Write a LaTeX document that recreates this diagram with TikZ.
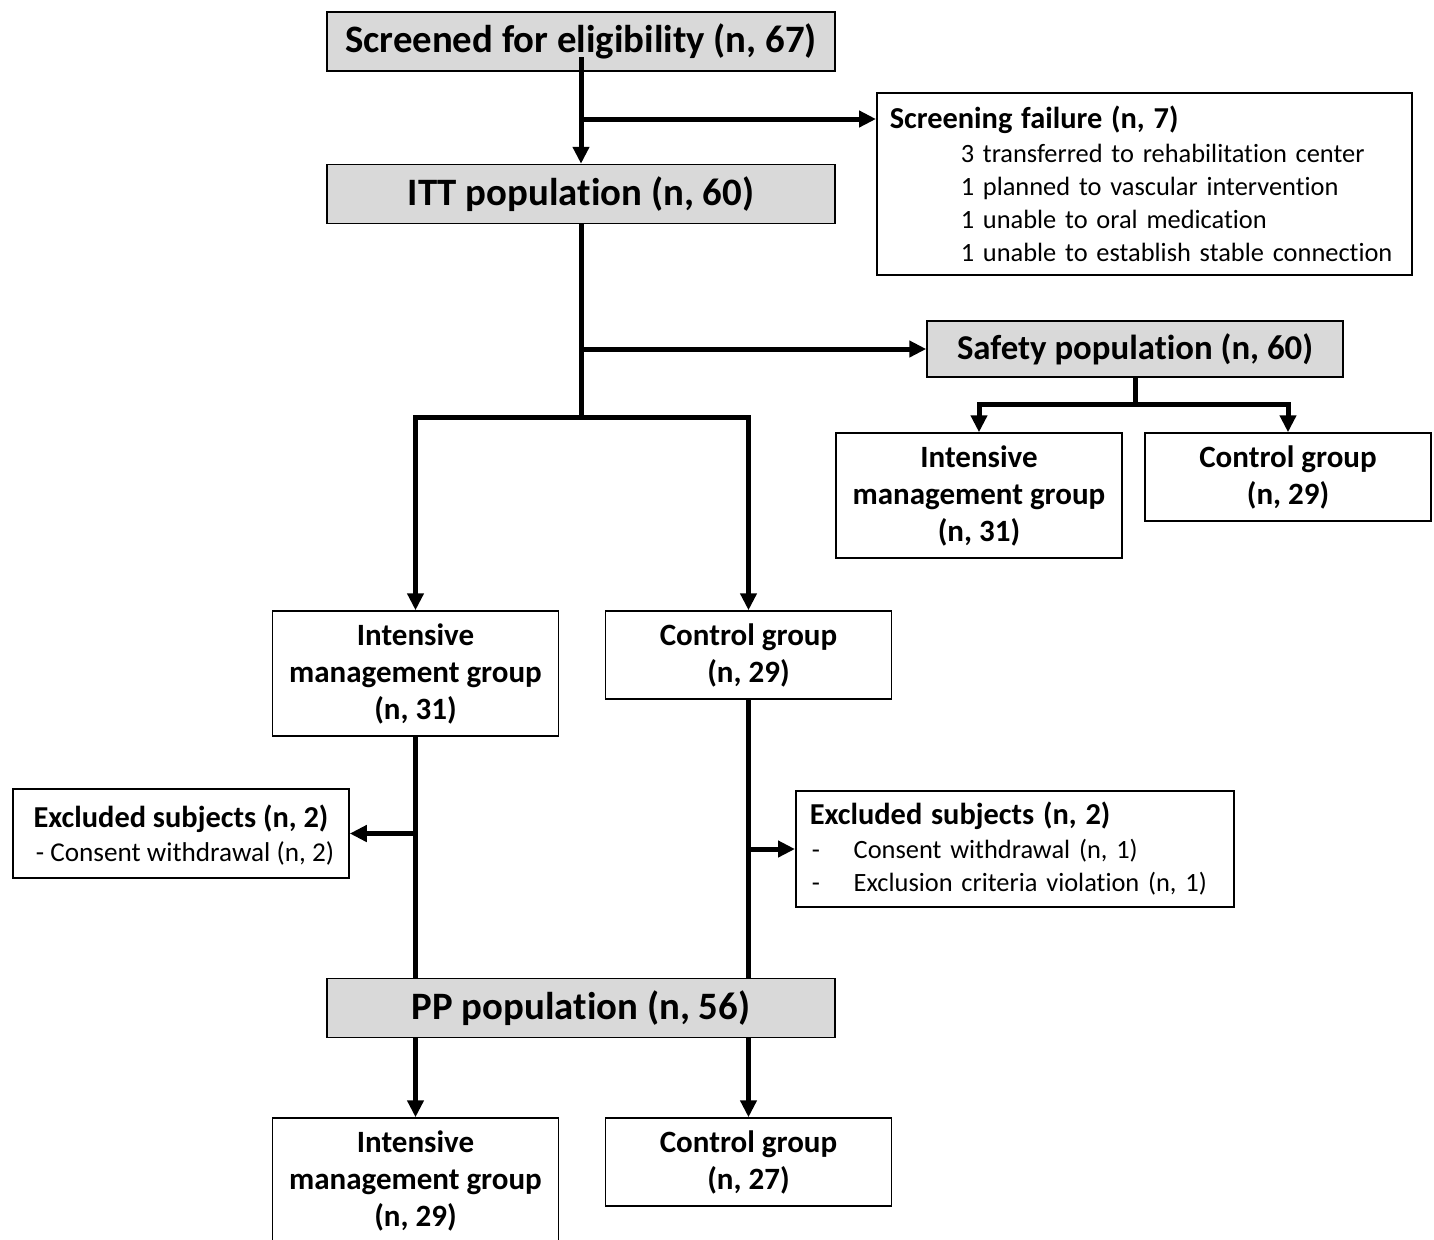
\documentclass[tikz,border=0pt]{standalone}
\usepackage{fontspec}
\setmainfont{Carlito}[Ligatures=NoCommon]
\usetikzlibrary{arrows.meta,positioning,calc}
\definecolor{boxgray}{HTML}{D9D9D9}
\newcommand\ttlfont{\bfseries\fontsize{15.2}{17}\selectfont}

\begin{document}
\begin{tikzpicture}[
  x=0.5pt, y=-0.5pt,
  popbox/.style={draw, line width=0.75pt, fill=boxgray, minimum width=254pt, minimum height=29.5pt, inner sep=0pt, font=\bfseries\fontsize{19.4}{23}\selectfont},
  grpbox/.style={draw, line width=0.75pt, fill=white, minimum width=143pt, inner sep=0pt, align=center, font=\bfseries\fontsize{15.5}{18.5}\selectfont},
  notebox/.style={draw, line width=0.75pt, fill=white, align=left, inner ysep=0pt, font=\fontsize{13.2}{16.5}\selectfont},
  arr/.style={-{Triangle[length=8.5pt,width=8pt]}, line width=2.5pt},
  conn/.style={line width=2.5pt}
]
\useasboundingbox (0,0) rectangle (1434,1239);

% population boxes
\node[popbox] (scr) at (581,41.5) {Screened for eligibility (n, 67)};
\node[popbox] (itt) at (581,194) {ITT population (n, 60)};
\node[popbox, minimum width=208pt, minimum height=28pt, font=\bfseries\fontsize{17.4}{21}\selectfont] (safe) at (1135,349) {Safety population (n, 60)};
\node[popbox] (pp) at (581,1008) {PP population (n, 56)};

% screening failure
\node[notebox, anchor=north west, inner xsep=6.5pt, text width=254.5pt, minimum height=91pt] (fail) at (876,92)
  {{\ttlfont Screening failure (n, 7)}\\[0.5pt]
   \hspace*{35.5pt}3 transferred to rehabilitation center\\
   \hspace*{35.5pt}1 planned to vascular intervention\\
   \hspace*{35.5pt}1 unable to oral medication\\
   \hspace*{35.5pt}1 unable to establish stable connection};

% safety groups
\node[grpbox, minimum height=62.5pt] (sint) at (979,495.5) {Intensive\\management group\\(n, 31)};
\node[grpbox, minimum height=44pt] (sctl) at (1288,477) {Control group\\(n, 29)};

% ITT groups
\node[grpbox, minimum height=62.5pt] (iint) at (415.5,673.5) {Intensive\\management group\\(n, 31)};
\node[grpbox, minimum height=44pt] (ictl) at (748.5,655) {Control group\\(n, 29)};

% excluded
\node[notebox, align=center, minimum width=168pt, minimum height=44.5pt, inner xsep=0pt, text depth=0pt] (exl) at (181,833.5)
  {{\ttlfont Excluded subjects (n, 2)}\\[0.5pt]
   {\fontsize{13.6}{16.5}\selectfont\hspace*{4pt}- Consent withdrawal (n, 2)}};
\node[notebox, anchor=north west, inner xsep=7pt, text width=205pt, minimum height=58pt] (exr) at (795,790)
  {{\ttlfont Excluded subjects (n, 2)}\\[0.5pt]
   \makebox[22pt][l]{\hspace{1pt}-}Consent withdrawal (n, 1)\\
   \makebox[22pt][l]{\hspace{1pt}-}Exclusion criteria violation (n, 1)};

% PP groups
\node[grpbox, minimum height=62.5pt] (pint) at (415.5,1180.5) {Intensive\\management group\\(n, 29)};
\node[grpbox, minimum height=44pt] (pctl) at (748.5,1162) {Control group\\(n, 27)};

% connectors
\coordinate (s0) at (581,57);
\coordinate (f0) at (581,119);
\coordinate (j0) at (itt.south |- safe.west);
\coordinate (j1) at (581,417);
\coordinate (j2) at (1135,404);
\coordinate (b1) at (iint.south |- exl.east);
\coordinate (b2) at (748.5,849);

\draw[arr] (s0) -- (itt.north);
\draw[arr] (f0) -- (f0 -| fail.west);
\draw[conn] (itt.south) -- (j1);
\draw[arr] (j0) -- (safe.west);
\draw[arr] (j1) -| (iint.north);
\draw[arr] (j1) -| (ictl.north);
\draw[conn] (safe.south) -- (j2);
\draw[arr] (j2) -| (sint.north);
\draw[arr] (j2) -| (sctl.north);
\draw[conn] (iint.south) -- (iint.south |- pp.north);
\draw[conn] (ictl.south) -- (ictl.south |- pp.north);
\draw[arr] (b1) -- (exl.east);
\draw[arr] (b2) -- (b2 -| exr.west);
\draw[arr] (pint.north |- pp.south) -- (pint.north);
\draw[arr] (pctl.north |- pp.south) -- (pctl.north);

\end{tikzpicture}
\end{document}
